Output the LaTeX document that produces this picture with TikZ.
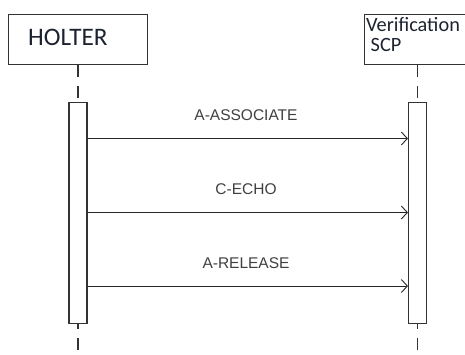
\documentclass[tikz,border=0pt]{standalone}
\usepackage{fontspec}
\setmainfont{Liberation Sans}
\newfontfamily\calib{Carlito}
\usetikzlibrary{arrows.meta}
\definecolor{ln}{HTML}{333333}
\definecolor{tx}{HTML}{1C2230}
\begin{document}
\begin{tikzpicture}[x=1pt,y=-1pt,
  objbox/.style={draw=ln,line width=1.1pt,rectangle,inner sep=0pt,anchor=north west},
  actbox/.style={draw=ln,line width=1.1pt,fill=white,rectangle,inner sep=0pt,minimum width=18pt,minimum height=221pt,anchor=north},
  life/.style={draw=ln,line width=1.1pt,dash pattern=on 12pt off 9pt},
  msg/.style={draw=black!85,line width=1pt,-{Straight Barb[length=6pt,width=13pt,line width=0.9pt]}},
  lbl/.style={font=\fontsize{15.5}{17}\selectfont,text=black!75,inner sep=0pt}]
\useasboundingbox (0,0) rectangle (465,354);
% object boxes
\node[objbox,minimum width=139pt,minimum height=50pt] (holter) at (8,13.5) {};
\node[anchor=base west,inner sep=0pt,font=\calib\fontsize{25.2}{27}\selectfont,text=tx] (holtert) at (28,45) {HOLTER};
\node[objbox,minimum width=104pt,minimum height=50pt] (verif) at (363.5,13.5) {};
\node[anchor=base west,inner sep=0pt,font=\calib\fontsize{20.3}{22}\selectfont,text=tx] (veriftA) at (366,31.5) {Verification};
\node[anchor=base west,inner sep=0pt,font=\calib\fontsize{20.3}{22}\selectfont,text=tx] (veriftB) at (370.5,51.5) {SCP};
% lifelines
\coordinate (lt) at (78,65);
\coordinate (lb) at (78,354);
\coordinate (rt) at (417.5,65);
\coordinate (rb) at (417.5,354);
\draw[life] (lt) -- (lb);
\draw[life] (rt) -- (rb);
% activations
\node[actbox] (la) at (78,101.5) {};
\node[actbox] (ra) at (417.5,101.5) {};
% messages
\coordinate (m1) at (0,138.5);
\coordinate (m2) at (0,212.5);
\coordinate (m3) at (0,286);
\draw[msg] (la.east |- m1) -- (ra.west |- m1);
\draw[msg] (la.east |- m2) -- (ra.west |- m2);
\draw[msg] (la.east |- m3) -- (ra.west |- m3);
\node[lbl] (l1) at (246,115) {A-ASSOCIATE};
\node[lbl] (l2) at (246,189) {C-ECHO};
\node[lbl] (l3) at (246,263) {A-RELEASE};
\end{tikzpicture}
\end{document}
